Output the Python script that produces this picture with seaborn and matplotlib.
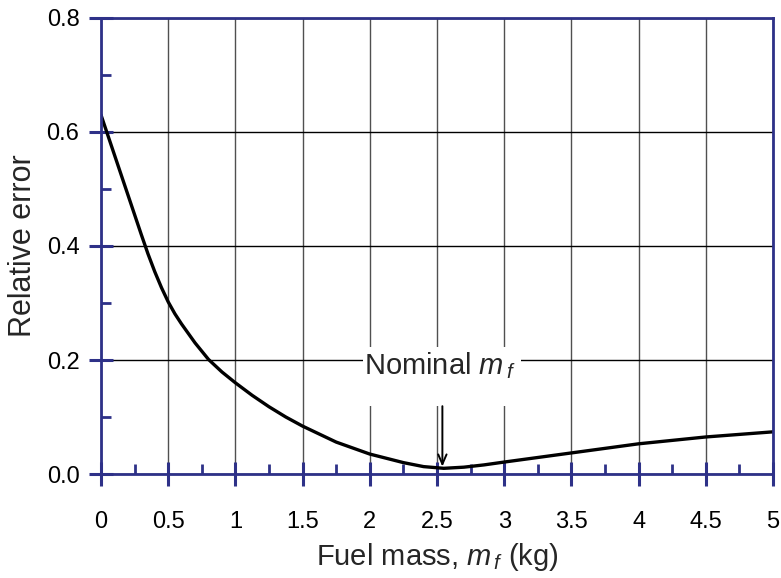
import numpy as np
import pandas as pd
import matplotlib
matplotlib.use("Agg")
import matplotlib.pyplot as plt
import seaborn as sns
from matplotlib.patches import Rectangle
from matplotlib.ticker import MultipleLocator, FormatStrFormatter

# --- data ---
fuel_mass = [0, 0.1, 0.2, 0.25, 0.3, 0.35, 0.4, 0.45, 0.5, 0.55, 0.6, 0.7,
             0.8, 0.9, 1.0, 1.125, 1.25, 1.375, 1.5, 1.75, 2.0, 2.25, 2.4,
             2.55, 2.7, 2.85, 3.0, 3.25, 3.5, 3.75, 4.0, 4.5, 5.0]
rel_error = [0.63, 0.56, 0.49, 0.455, 0.42, 0.386, 0.355, 0.327, 0.302,
             0.281, 0.263, 0.23, 0.201, 0.179, 0.16, 0.138, 0.118, 0.1,
             0.084, 0.056, 0.035, 0.020, 0.013, 0.010, 0.012, 0.016, 0.021,
             0.029, 0.037, 0.045, 0.053, 0.065, 0.074]
nominal_mf = 2.54
nominal_err = 0.013

sns.set_style("white")
plt.rcParams["font.family"] = ["Liberation Sans", "DejaVu Sans"]
plt.rcParams["mathtext.fontset"] = "custom"
plt.rcParams["mathtext.it"] = "Liberation Sans:italic"
plt.rcParams["mathtext.rm"] = "Liberation Sans"

navy = "#2E3188"
df = pd.DataFrame({"Fuel mass": fuel_mass, "Relative error": rel_error})

fig = plt.figure(figsize=(7.81, 5.78), dpi=100)
ax = fig.add_axes([0.1293, 0.1799, 0.8605, 0.789])

sns.lineplot(data=df, x="Fuel mass", y="Relative error", color="black",
             lw=2.4, ax=ax, zorder=3)

ax.set_xlim(0, 5)
ax.set_ylim(0, 0.8)
ax.xaxis.set_major_locator(MultipleLocator(0.5))
ax.xaxis.set_minor_locator(MultipleLocator(0.25))
ax.yaxis.set_major_locator(MultipleLocator(0.2))
ax.yaxis.set_minor_locator(MultipleLocator(0.1))
ax.xaxis.set_major_formatter(plt.FuncFormatter(lambda v, p: f"{v:g}"))
ax.yaxis.set_major_formatter(FormatStrFormatter("%.1f"))

ax.grid(False)
ax.xaxis.grid(True, which="major", color="#505050", lw=1.0)
ax.yaxis.grid(True, which="major", color="black", lw=1.0)
ax.set_axisbelow(True)

for s in ax.spines.values():
    s.set_color(navy)
    s.set_linewidth(2)
    s.set_zorder(4)

# ticks cross the axis line, minor ticks point inward only
ax.tick_params(axis="both", which="major", bottom=True, left=True,
               top=False, right=False, direction="inout", length=17,
               width=2.2, color=navy, labelsize=17, labelcolor="black")
ax.tick_params(axis="both", which="minor", bottom=True, left=True,
               top=False, right=False, direction="in", length=7,
               width=2, color=navy)
ax.tick_params(axis="x", which="major", pad=18)
ax.tick_params(axis="y", which="major", pad=7)

ax.set_xlabel("Fuel mass, $m_{\\,f}$ (kg)", fontsize=21, labelpad=6)
ax.set_ylabel("Relative error", fontsize=22, labelpad=6)

# white label box that hides the grid behind the annotation
ax.add_patch(Rectangle((1.95, 0.119), 1.175, 0.104, transform=ax.transData,
                       fc="white", ec="none", zorder=2))
ax.text(2.52, 0.19, "Nominal $m_{\\,f}$", ha="center", va="center",
        fontsize=21, zorder=5)
ax.annotate("", xy=(nominal_mf, nominal_err), xytext=(nominal_mf, 0.119),
            arrowprops=dict(arrowstyle="->,head_length=0.7,head_width=0.3",
                            color="black", lw=1.4, shrinkA=0, shrinkB=0),
            zorder=5)

fig.savefig("out.png", dpi=100)
